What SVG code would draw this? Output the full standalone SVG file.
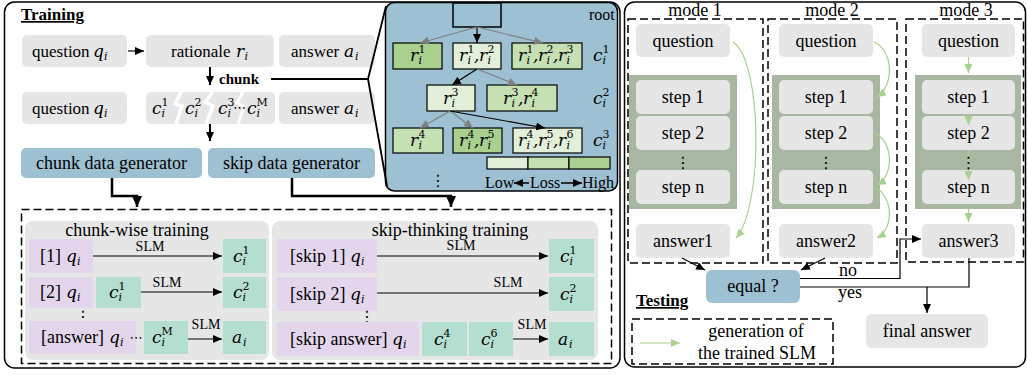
<svg xmlns="http://www.w3.org/2000/svg" width="1027" height="376" viewBox="0 0 1027 376" font-family="'Liberation Serif', 'Times New Roman', 'DejaVu Serif', serif">
<defs>
<style>
text{font-family:'Liberation Serif','Times New Roman','DejaVu Serif',serif;fill:#000}
.t16{font-size:16px}
.t17{font-size:17px}
.t18{font-size:18px}
.slm{font-size:14px;text-anchor:middle}
.hd{font-size:17px;font-weight:bold;text-decoration:underline}
.m{font-family:'DejaVu Serif',serif;font-style:italic;font-size:17px}
.s{font-family:'DejaVu Serif',serif;font-style:normal;font-size:11px}
.si{font-family:'DejaVu Serif',serif;font-style:italic;font-size:11px}
.dots{font-family:'DejaVu Sans',sans-serif;font-size:16px;text-anchor:middle}
.mid{text-anchor:middle}
.gray{fill:#e6e6e6}
.blue{fill:#9ec0d3}
.pur{fill:#e3d6ec}
.mint{fill:#b4dfd0}
.lg{fill:#e2efd9;stroke:#000;stroke-width:1.2}
.md{fill:#c5e0b3;stroke:#000;stroke-width:1.2}
.dk{fill:#a9d08e;stroke:#000;stroke-width:1.2}
.panel{fill:none;stroke:#000;stroke-width:1.5}
.dash{fill:none;stroke:#000;stroke-width:1.5;stroke-dasharray:8 4}
.ln{fill:none;stroke:#000;stroke-width:1.2}
.thick{fill:none;stroke:#000;stroke-width:2.5}
.gr{fill:none;stroke:#7f7f7f;stroke-width:1.2}
.grn{fill:none;stroke:#a9d18e;stroke-width:1.2}
</style>
<marker id="ah" markerUnits="userSpaceOnUse" markerWidth="10" markerHeight="8" refX="9" refY="4" orient="auto"><path d="M0,0 L9,4 L0,8 z" fill="#000"/></marker>
<marker id="ahb" markerUnits="userSpaceOnUse" markerWidth="12" markerHeight="10" refX="11" refY="5" orient="auto"><path d="M0,0 L11,5 L0,10 z" fill="#000"/></marker>
<marker id="ahg" markerUnits="userSpaceOnUse" markerWidth="10" markerHeight="8" refX="9" refY="4" orient="auto"><path d="M0,0 L9,4 L0,8 z" fill="#7f7f7f"/></marker>
<marker id="ahn" markerUnits="userSpaceOnUse" markerWidth="10" markerHeight="8" refX="9" refY="4" orient="auto"><path d="M0,0 L9,4 L0,8 z" fill="#a9d18e"/></marker>
</defs>

<!-- outer frames -->
<rect class="panel" x="4.5" y="2" width="615.5" height="366" rx="10"/>
<rect class="panel" x="624.5" y="2" width="401" height="365" rx="10"/>

<!-- ===== training side ===== -->
<text class="hd" x="21" y="20">Training</text>

<g id="q1"><rect class="gray" x="22" y="35" width="105" height="32" rx="5"/>
<text class="t17" x="32" y="57">question</text>
<text class="m"><tspan x="93" y="57">q</tspan><tspan class="si" x="104" y="60">i</tspan></text></g>

<g id="rationale"><rect class="gray" x="146" y="35" width="128" height="32" rx="5"/>
<text class="t17" x="171" y="57">rationale</text>
<text class="m"><tspan x="236" y="57">r</tspan><tspan class="si" x="244.5" y="60">i</tspan></text></g>

<g id="a1"><rect class="gray" x="279" y="35" width="96" height="32" rx="5"/>
<text class="t17" x="291" y="57">answer</text>
<text class="m"><tspan x="344" y="57">a</tspan><tspan class="si" x="355" y="60">i</tspan></text></g>

<g id="q2"><rect class="gray" x="22" y="92" width="105" height="32" rx="5"/>
<text class="t17" x="32" y="114">question</text>
<text class="m"><tspan x="93" y="114">q</tspan><tspan class="si" x="104" y="117">i</tspan></text></g>

<g id="chunks"><rect class="gray" x="146" y="92" width="129" height="32" rx="5"/>
<polyline points="181,92 175,104 182,106 176,124" fill="none" stroke="#fff" stroke-width="3.5"/>
<polyline points="213,92 205,102 213,106 206,124" fill="none" stroke="#fff" stroke-width="3.5"/>
<polyline points="243,92 237,103 244,107 238,124" fill="none" stroke="#fff" stroke-width="3"/>
<text class="m"><tspan x="152" y="114">c</tspan><tspan class="s" x="161.5" y="106">1</tspan><tspan class="si" x="161.5" y="117">i</tspan></text>
<text class="m"><tspan x="185" y="114">c</tspan><tspan class="s" x="194.5" y="106">2</tspan><tspan class="si" x="194.5" y="117">i</tspan></text>
<text class="m"><tspan x="218" y="114">c</tspan><tspan class="s" x="227.5" y="106">3</tspan><tspan class="si" x="227.5" y="117">i</tspan></text>
<text class="dots" x="239.5" y="112" style="font-size:13px">⋯</text>
<text class="m"><tspan x="247" y="114">c</tspan><tspan class="s" x="256.5" y="106">M</tspan><tspan class="si" x="256.5" y="117">i</tspan></text></g>

<g id="a2"><rect class="gray" x="279" y="92" width="96" height="32" rx="5"/>
<text class="t17" x="291" y="114">answer</text>
<text class="m"><tspan x="344" y="114">a</tspan><tspan class="si" x="355" y="117">i</tspan></text></g>

<text x="219" y="84" style="font-size:15px;font-weight:bold">chunk</text>

<g id="chunk-gen"><rect class="blue" x="21" y="148" width="181" height="30" rx="5"/>
<text class="t18 mid" x="111.5" y="169">chunk data generator</text></g>
<g id="skip-gen"><rect class="blue" x="208" y="148" width="167" height="30" rx="5"/>
<text class="t18 mid" x="291.5" y="169">skip data generator</text></g>

<!-- tree of chunk candidates -->
<g id="tree">
<rect x="385.5" y="2.5" width="232" height="188.5" rx="9" fill="#9ec0d3" stroke="#000" stroke-width="1.5"/>
<text class="t16" x="589" y="20">root</text>
<rect x="453" y="3" width="48" height="24" fill="#9ec0d3" stroke="#000" stroke-width="1.5"/>
<rect class="dk" x="393" y="43" width="49" height="26"/>
<rect class="lg" x="453" y="43" width="48" height="26"/>
<rect class="md" x="512" y="43" width="70" height="26"/>
<rect class="lg" x="427" y="85" width="48" height="26"/>
<rect class="md" x="487" y="85" width="70" height="26"/>
<rect class="md" x="393" y="128" width="50" height="25"/>
<rect class="dk" x="453" y="128" width="49" height="25"/>
<rect class="lg" x="513" y="128" width="69" height="25"/>
<text class="m"><tspan x="410" y="61">r</tspan><tspan class="s" x="418.5" y="53">1</tspan><tspan class="si" x="418.5" y="64">i</tspan></text>
<text class="m"><tspan x="459" y="61">r</tspan><tspan class="s" x="467.5" y="53">1</tspan><tspan class="si" x="467.5" y="64">i</tspan><tspan x="474" y="61">,</tspan><tspan x="479" y="61">r</tspan><tspan class="s" x="487.5" y="53">2</tspan><tspan class="si" x="487.5" y="64">i</tspan></text>
<text class="m"><tspan x="518" y="61">r</tspan><tspan class="s" x="526.5" y="53">1</tspan><tspan class="si" x="526.5" y="64">i</tspan><tspan x="533" y="61">,</tspan><tspan x="538" y="61">r</tspan><tspan class="s" x="546.5" y="53">2</tspan><tspan class="si" x="546.5" y="64">i</tspan><tspan x="553" y="61">,</tspan><tspan x="558" y="61">r</tspan><tspan class="s" x="566.5" y="53">3</tspan><tspan class="si" x="566.5" y="64">i</tspan></text>
<text class="m"><tspan x="443" y="104">r</tspan><tspan class="s" x="451.5" y="96">3</tspan><tspan class="si" x="451.5" y="107">i</tspan></text>
<text class="m"><tspan x="503" y="104">r</tspan><tspan class="s" x="511.5" y="96">3</tspan><tspan class="si" x="511.5" y="107">i</tspan><tspan x="518" y="104">,</tspan><tspan x="523" y="104">r</tspan><tspan class="s" x="531.5" y="96">4</tspan><tspan class="si" x="531.5" y="107">i</tspan></text>
<text class="m"><tspan x="410" y="146">r</tspan><tspan class="s" x="418.5" y="138">4</tspan><tspan class="si" x="418.5" y="149">i</tspan></text>
<text class="m"><tspan x="459" y="146">r</tspan><tspan class="s" x="467.5" y="138">4</tspan><tspan class="si" x="467.5" y="149">i</tspan><tspan x="474" y="146">,</tspan><tspan x="479" y="146">r</tspan><tspan class="s" x="487.5" y="138">5</tspan><tspan class="si" x="487.5" y="149">i</tspan></text>
<text class="m"><tspan x="518" y="146">r</tspan><tspan class="s" x="526.5" y="138">4</tspan><tspan class="si" x="526.5" y="149">i</tspan><tspan x="533" y="146">,</tspan><tspan x="538" y="146">r</tspan><tspan class="s" x="546.5" y="138">5</tspan><tspan class="si" x="546.5" y="149">i</tspan><tspan x="553" y="146">,</tspan><tspan x="558" y="146">r</tspan><tspan class="s" x="566.5" y="138">6</tspan><tspan class="si" x="566.5" y="149">i</tspan></text>
<text class="m"><tspan x="593" y="61">c</tspan><tspan class="s" x="602.5" y="53">1</tspan><tspan class="si" x="602.5" y="64">i</tspan></text>
<text class="m"><tspan x="593" y="104">c</tspan><tspan class="s" x="602.5" y="96">2</tspan><tspan class="si" x="602.5" y="107">i</tspan></text>
<text class="m"><tspan x="593" y="146">c</tspan><tspan class="s" x="602.5" y="138">3</tspan><tspan class="si" x="602.5" y="149">i</tspan></text>
<text class="dots" x="438" y="186">⋮</text>
<!-- loss legend -->
<rect class="lg" x="487" y="157" width="41" height="12"/>
<rect class="md" x="528" y="157" width="41" height="12"/>
<rect class="dk" x="569" y="157" width="41" height="12"/>
<text class="t16" x="485" y="188">Low</text>
<text class="t16" x="530" y="188">Loss</text>
<text class="t16" x="582" y="188">High</text>
<line x1="529" y1="183" x2="514" y2="183" stroke="#000" stroke-width="1.5" marker-end="url(#ah)"/>
<line x1="561" y1="183" x2="582" y2="183" stroke="#000" stroke-width="1.5" marker-end="url(#ah)"/>
</g>

<!-- training data -->
<rect class="dash" x="21.5" y="209.5" width="590" height="154"/>

<g id="chunk-wise">
<rect class="gray" x="25" y="221" width="244" height="139" rx="8"/>
<text class="t18 mid" x="137" y="236">chunk-wise training</text>
<rect class="pur" x="29" y="239" width="64" height="34"/>
<rect class="mint" x="223" y="239" width="43" height="34"/>
<text class="t18" x="40" y="262">[1]</text>
<text class="m"><tspan x="66" y="262">q</tspan><tspan class="si" x="77" y="265">i</tspan></text>
<text class="m"><tspan x="233" y="262">c</tspan><tspan class="s" x="242.5" y="254">1</tspan><tspan class="si" x="242.5" y="265">i</tspan></text>
<rect class="pur" x="29" y="277" width="64" height="31"/>
<rect class="mint" x="96" y="277" width="45" height="31"/>
<rect class="mint" x="223" y="277" width="43" height="31"/>
<text class="t18" x="40" y="298">[2]</text>
<text class="m"><tspan x="66" y="298">q</tspan><tspan class="si" x="77" y="301">i</tspan></text>
<text class="m"><tspan x="109" y="298">c</tspan><tspan class="s" x="118.5" y="290">1</tspan><tspan class="si" x="118.5" y="301">i</tspan></text>
<text class="m"><tspan x="233" y="298">c</tspan><tspan class="s" x="242.5" y="290">2</tspan><tspan class="si" x="242.5" y="301">i</tspan></text>
<text class="dots" x="83" y="322">⋮</text>
<rect class="pur" x="29" y="321" width="107" height="33"/>
<rect class="mint" x="144" y="321" width="44" height="33"/>
<rect class="mint" x="223" y="321" width="43" height="33"/>
<text class="t18" x="41" y="343">[answer]</text>
<text class="m"><tspan x="109" y="343">q</tspan><tspan class="si" x="120" y="346">i</tspan></text>
<text class="dots" x="136" y="342" style="font-size:13px">⋯</text>
<text class="m"><tspan x="152" y="343">c</tspan><tspan class="s" x="161.5" y="335">M</tspan><tspan class="si" x="161.5" y="346">i</tspan></text>
<text class="m"><tspan x="232" y="343">a</tspan><tspan class="si" x="243" y="346">i</tspan></text>
<text class="slm" x="150" y="251">SLM</text>
<text class="slm" x="167" y="287">SLM</text>
<text class="slm" x="206" y="329">SLM</text>
</g>

<g id="skip-thinking">
<rect class="gray" x="272" y="221" width="326" height="139" rx="8"/>
<text class="t18 mid" x="450" y="236">skip-thinking training</text>
<rect class="pur" x="277" y="239" width="100" height="34"/>
<rect class="mint" x="549" y="239" width="45" height="34"/>
<text class="t18" x="290" y="262">[skip 1]</text>
<text class="m"><tspan x="350" y="262">q</tspan><tspan class="si" x="361" y="265">i</tspan></text>
<text class="m"><tspan x="560" y="262">c</tspan><tspan class="s" x="569.5" y="254">1</tspan><tspan class="si" x="569.5" y="265">i</tspan></text>
<rect class="pur" x="277" y="277" width="100" height="34"/>
<rect class="mint" x="549" y="277" width="45" height="34"/>
<text class="t18" x="290" y="300">[skip 2]</text>
<text class="m"><tspan x="350" y="300">q</tspan><tspan class="si" x="361" y="303">i</tspan></text>
<text class="m"><tspan x="560" y="300">c</tspan><tspan class="s" x="569.5" y="292">2</tspan><tspan class="si" x="569.5" y="303">i</tspan></text>
<text class="dots" x="367" y="322">⋮</text>
<rect class="pur" x="277" y="322" width="142" height="34"/>
<rect class="mint" x="422" y="322" width="45" height="34"/>
<rect class="mint" x="469" y="322" width="44" height="34"/>
<rect class="mint" x="549" y="322" width="45" height="34"/>
<text class="t18" x="290" y="345">[skip answer]</text>
<text class="m"><tspan x="392" y="345">q</tspan><tspan class="si" x="403" y="348">i</tspan></text>
<text class="m"><tspan x="434" y="345">c</tspan><tspan class="s" x="443.5" y="337">4</tspan><tspan class="si" x="443.5" y="348">i</tspan></text>
<text class="m"><tspan x="481" y="345">c</tspan><tspan class="s" x="490.5" y="337">6</tspan><tspan class="si" x="490.5" y="348">i</tspan></text>
<text class="m"><tspan x="558" y="345">a</tspan><tspan class="si" x="569" y="348">i</tspan></text>
<text class="slm" x="461" y="250">SLM</text>
<text class="slm" x="508" y="287">SLM</text>
<text class="slm" x="532" y="329">SLM</text>
</g>

<!-- ===== testing side ===== -->
<g id="mode1">
<text class="t18 mid" x="695" y="16">mode 1</text>
<rect class="dash" x="628" y="19" width="135" height="244"/>
<rect class="gray" x="636" y="24" width="94" height="33" rx="5"/>
<text class="t18 mid" x="683" y="46.5">question</text>
<rect x="629" y="75" width="108" height="134" fill="#a8b7a1"/>
<rect class="gray" x="636" y="80" width="94" height="34" rx="5"/>
<rect class="gray" x="636" y="116" width="94" height="34" rx="5"/>
<rect class="gray" x="636" y="170" width="94" height="34" rx="5"/>
<text class="t18 mid" x="683" y="103">step 1</text>
<text class="t18 mid" x="683" y="139">step 2</text>
<text class="dots" x="683" y="168">⋮</text>
<text class="t18 mid" x="683" y="193">step n</text>
<rect class="gray" x="636" y="224" width="94" height="34" rx="5"/>
<text class="t18 mid" x="683" y="247">answer1</text>
</g>

<g id="mode2">
<text class="t18 mid" x="832" y="16">mode 2</text>
<rect class="dash" x="768" y="19" width="129" height="244"/>
<rect class="gray" x="779" y="24" width="94" height="33" rx="5"/>
<text class="t18 mid" x="826" y="46.5">question</text>
<rect x="772" y="75" width="108" height="134" fill="#a8b7a1"/>
<rect class="gray" x="779" y="80" width="94" height="34" rx="5"/>
<rect class="gray" x="779" y="116" width="94" height="34" rx="5"/>
<rect class="gray" x="779" y="170" width="94" height="34" rx="5"/>
<text class="t18 mid" x="826" y="103">step 1</text>
<text class="t18 mid" x="826" y="139">step 2</text>
<text class="dots" x="826" y="168">⋮</text>
<text class="t18 mid" x="826" y="193">step n</text>
<rect class="gray" x="779" y="224" width="94" height="34" rx="5"/>
<text class="t18 mid" x="826" y="247">answer2</text>
</g>

<g id="mode3">
<text class="t18 mid" x="966" y="16">mode 3</text>
<rect class="dash" x="906" y="19" width="117.5" height="243"/>
<rect class="gray" x="922" y="24" width="93" height="33" rx="5"/>
<text class="t18 mid" x="968.5" y="46.5">question</text>
<rect x="915" y="75" width="106" height="134" fill="#a8b7a1"/>
<rect class="gray" x="922" y="80" width="93" height="34" rx="5"/>
<rect class="gray" x="922" y="116" width="93" height="34" rx="5"/>
<rect class="gray" x="922" y="170" width="93" height="34" rx="5"/>
<text class="t18 mid" x="968.5" y="103">step 1</text>
<text class="t18 mid" x="968.5" y="139">step 2</text>
<text class="t18 mid" x="968.5" y="193">step n</text>
<rect class="gray" x="922" y="224" width="93" height="34" rx="5"/>
<text class="t18 mid" x="968.5" y="247">answer3</text>
</g>

<g id="equal"><rect class="blue" x="706" y="270" width="94" height="33" rx="6"/>
<text class="t18 mid" x="753" y="292">equal ?</text></g>
<g id="final"><rect class="gray" x="866" y="314" width="122" height="34" rx="6"/>
<text class="t18 mid" x="927" y="337">final answer</text></g>

<text class="hd" x="636" y="306">Testing</text>
<g id="legend">
<rect class="dash" x="632" y="319" width="201" height="45"/>
<line class="grn" x1="640" y1="343" x2="680" y2="343" marker-end="url(#ahn)"/>
<text class="t18 mid" x="756" y="337">generation of</text>
<text class="t18 mid" x="757" y="359">the trained SLM</text>
</g>

<!-- connectors -->
<g id="connectors">
<line class="ln" x1="128" y1="51" x2="144" y2="51" marker-end="url(#ah)"/>
<line x1="210" y1="67" x2="210" y2="85" stroke="#000" stroke-width="2" marker-end="url(#ah)"/>
<line x1="210" y1="124" x2="210" y2="141" stroke="#000" stroke-width="2" marker-end="url(#ah)"/>
<polyline points="271,79 368,79 386,6" fill="none" stroke="#000" stroke-width="1.8"/>
<line x1="368" y1="79" x2="387" y2="186" stroke="#000" stroke-width="1.8"/>
<path class="thick" d="M112,178 V196 H137 V207" marker-end="url(#ahb)"/>
<path class="thick" d="M292,178 V196 H451 V207" marker-end="url(#ahb)"/>

<line class="ln" x1="477" y1="27" x2="477" y2="43" marker-end="url(#ah)"/>
<line class="gr" x1="477" y1="27" x2="420" y2="43" marker-end="url(#ahg)"/>
<line class="gr" x1="477" y1="27" x2="543" y2="43" marker-end="url(#ahg)"/>
<line class="ln" x1="477" y1="69" x2="452" y2="85" marker-end="url(#ah)"/>
<line class="gr" x1="477" y1="69" x2="517" y2="85" marker-end="url(#ahg)"/>
<line class="gr" x1="450" y1="111" x2="420" y2="128" marker-end="url(#ahg)"/>
<line class="gr" x1="450" y1="111" x2="473" y2="128" marker-end="url(#ahg)"/>
<line class="ln" x1="450" y1="111" x2="545" y2="128" marker-end="url(#ah)"/>

<line class="ln" x1="93" y1="256" x2="222" y2="256" marker-end="url(#ah)"/>
<line class="ln" x1="141" y1="292" x2="222" y2="292" marker-end="url(#ah)"/>
<line class="ln" x1="188" y1="339" x2="222" y2="339" marker-end="url(#ah)"/>
<line class="ln" x1="377" y1="256" x2="548" y2="256" marker-end="url(#ah)"/>
<line class="ln" x1="377" y1="293" x2="548" y2="293" marker-end="url(#ah)"/>
<line class="ln" x1="513" y1="339" x2="548" y2="339" marker-end="url(#ah)"/>

<path class="grn" d="M733,42 C762,60 764,205 736,238" marker-end="url(#ahn)"/>
<path class="grn" d="M874,42 C893,50 895,85 877,97" marker-end="url(#ahn)"/>
<path class="grn" d="M874,133 C893,140 895,175 877,185" marker-end="url(#ahn)"/>
<path class="grn" d="M874,187 C893,195 895,228 877,238" marker-end="url(#ahn)"/>
<line class="grn" x1="968.5" y1="57" x2="968.5" y2="73" marker-end="url(#ahn)"/>
<line class="grn" x1="968.5" y1="114" x2="968.5" y2="125" marker-end="url(#ahn)"/>
<line class="grn" x1="968.5" y1="150" x2="968.5" y2="180" marker-end="url(#ahn)"/>
<line class="grn" x1="968.5" y1="209" x2="968.5" y2="222" marker-end="url(#ahn)"/>

<line class="ln" x1="682" y1="258" x2="705" y2="270" marker-end="url(#ah)"/>
<line class="ln" x1="825" y1="258" x2="801" y2="270" marker-end="url(#ah)"/>
<path class="ln" d="M800,278.5 H900 V239 H921" marker-end="url(#ah)"/>
<path class="ln" d="M800,287 H969 V258"/>
<line class="ln" x1="927" y1="287" x2="927" y2="313" marker-end="url(#ah)"/>
</g>
<text class="t18" x="839" y="276">no</text>
<text class="t18" x="838" y="298">yes</text>
<text class="dots" x="968.5" y="168" style="font-size:16px">⋮</text>
</svg>
